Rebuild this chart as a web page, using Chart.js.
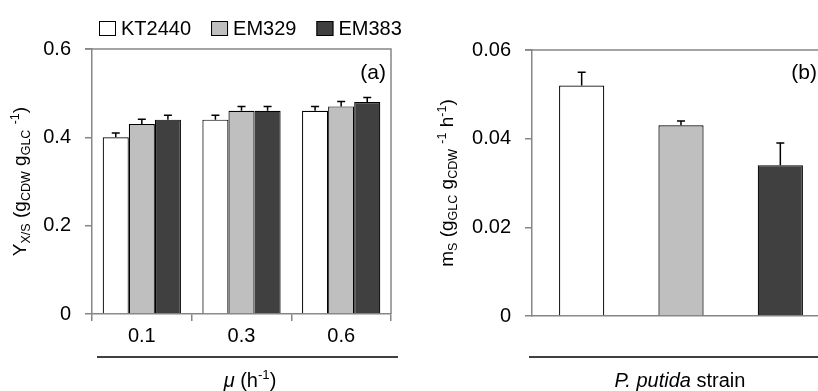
<!DOCTYPE html>
<html>
<head>
<meta charset="utf-8">
<script src="https://cdn.jsdelivr.net/npm/chart.js@4"></script>
<style>
  html, body { margin: 0; padding: 0; background: #fff; }
  body { width: 818px; height: 391px; overflow: hidden; position: relative; }
  #chartA { position: absolute; left: 0; top: 0; }
  #chartB { position: absolute; left: 410px; top: 0; }
</style>
</head>
<body>
<canvas id="chartA" width="410" height="391"></canvas>
<canvas id="chartB" width="440" height="391"></canvas>
<script>
const FONT = '"Liberation Sans", Arial, sans-serif';

// panel (a): yield at three growth rates
const growthRates = ['0.1', '0.3', '0.6'];
const strains = ['KT2440', 'EM329', 'EM383'];
const yieldKT2440 = [0.40, 0.44, 0.46];
const yieldEM329 = [0.43, 0.46, 0.47];
const yieldEM383 = [0.44, 0.46, 0.48];
const yieldErrKT2440 = [0.01, 0.01, 0.01];
const yieldErrEM329 = [0.011, 0.01, 0.011];
const yieldErrEM383 = [0.01, 0.01, 0.01];
const yieldTicks = [0, 0.2, 0.4, 0.6];

// panel (b): maintenance coefficient per strain
const maintenance = [0.052, 0.043, 0.034];
const maintenanceErr = [0.003, 0.001, 0.005];
const maintenanceTicks = [0, 0.02, 0.04, 0.06];

const strainColors = ['#ffffff', '#bfbfbf', '#404040'];
const axisGray = '#868686';

Chart.defaults.font.family = FONT;
Chart.defaults.font.size = 20;
Chart.defaults.color = '#000';

// draws a line of text with sub/superscript and italic runs
function drawRich(ctx, parts, x, y, size, rotate) {
    ctx.save();
    ctx.translate(x, y);
    if (rotate) ctx.rotate(-Math.PI / 2);
    ctx.textBaseline = 'alphabetic';
    ctx.fillStyle = '#000';
    const runs = parts.map(p => {
        const style = p[1] || '';
        const small = style === 'sub' || style === 'sup';
        const fs = small ? size * 0.66 : size;
        const font = (style === 'i' ? 'italic ' : '') + fs + 'px ' + FONT;
        ctx.font = font;
        const w = ctx.measureText(p[0]).width;
        const dy = style === 'sub' ? size * 0.22 : style === 'sup' ? -size * 0.38 : 0;
        return { text: p[0], font, w, dy };
    });
    const total = runs.reduce((s, r) => s + r.w, 0);
    let cx = -total / 2;
    runs.forEach(r => {
        ctx.font = r.font;
        ctx.fillText(r.text, cx, r.dy);
        cx += r.w;
    });
    ctx.restore();
}

const errorBars = {
    id: 'errorBars',
    afterDatasetsDraw(chart) {
        const ctx = chart.ctx;
        const yScale = chart.scales.y;
        ctx.save();
        ctx.strokeStyle = '#000';
        ctx.lineWidth = 1.5;
        chart.data.datasets.forEach((ds, i) => {
            const meta = chart.getDatasetMeta(i);
            meta.data.forEach((bar, j) => {
                const top = yScale.getPixelForValue(ds.data[j] + ds.errors[j]);
                ctx.beginPath();
                ctx.moveTo(bar.x, bar.y);
                ctx.lineTo(bar.x, top);
                ctx.moveTo(bar.x - 4, top);
                ctx.lineTo(bar.x + 4, top);
                ctx.stroke();
            });
        });
        ctx.restore();
    }
};

const decorations = {
    id: 'decorations',
    afterDraw(chart, args, opts) {
        const ctx = chart.ctx;
        const a = chart.chartArea;
        ctx.save();
        // plot frame (top and right)
        ctx.strokeStyle = axisGray;
        ctx.lineWidth = 1.5;
        ctx.beginPath();
        ctx.moveTo(a.left - 7, a.top);
        ctx.lineTo(a.right, a.top);
        ctx.lineTo(a.right, a.bottom);
        ctx.stroke();
        // underline above the x title
        ctx.strokeStyle = '#000';
        ctx.lineWidth = 1.5;
        ctx.beginPath();
        ctx.moveTo(opts.lineFrom, 357);
        ctx.lineTo(opts.lineTo, 357);
        ctx.stroke();
        // panel letter
        ctx.font = '21px ' + FONT;
        ctx.fillStyle = '#000';
        ctx.textAlign = 'right';
        ctx.textBaseline = 'middle';
        ctx.fillText(opts.letter, opts.letterX, 73);
        ctx.restore();
        drawRich(ctx, opts.yTitle, opts.yTitleX, (a.top + a.bottom) / 2, 19, true);
        drawRich(ctx, opts.xTitle, opts.xTitleX, 387, 20, false);
        if (opts.legend) {
            ctx.save();
            ctx.font = '20px ' + FONT;
            ctx.textBaseline = 'middle';
            ctx.textAlign = 'left';
            let x = opts.legendX;
            chart.data.datasets.forEach(ds => {
                ctx.fillStyle = ds.backgroundColor;
                ctx.strokeStyle = '#000';
                ctx.lineWidth = 1;
                ctx.fillRect(x, 21, 17, 15);
                ctx.strokeRect(x + 0.5, 21.5, 16, 14);
                ctx.fillStyle = '#000';
                ctx.fillText(ds.label, x + 22, 29);
                x += 22 + ctx.measureText(ds.label).width + 20;
            });
            ctx.restore();
        }
    }
};

function yAxis(max, step, ticks, width) {
    return {
        min: 0,
        max: max,
        afterFit: s => { s.width = width; },
        afterBuildTicks: s => { s.ticks = ticks.map(v => ({ value: v })); },
        ticks: { padding: 14, stepSize: step },
        grid: { drawOnChartArea: false, tickLength: 7, color: axisGray, lineWidth: 1.5 },
        border: { color: axisGray, width: 1.5 }
    };
}

new Chart(document.getElementById('chartA'), {
    type: 'bar',
    data: {
        labels: growthRates,
        datasets: [
            { label: strains[0], data: yieldKT2440, errors: yieldErrKT2440, backgroundColor: strainColors[0] },
            { label: strains[1], data: yieldEM329, errors: yieldErrEM329, backgroundColor: strainColors[1] },
            { label: strains[2], data: yieldEM383, errors: yieldErrEM383, backgroundColor: strainColors[2] }
        ].map(d => Object.assign(d, { borderColor: '#000', borderWidth: 1.2, barPercentage: 1, categoryPercentage: 0.785 }))
    },
    options: {
        responsive: false,
        animation: false,
        layout: { padding: { top: 49, right: 19, left: 0, bottom: 0 } },
        plugins: {
            legend: { display: false },
            tooltip: { enabled: false },
            decorations: {
                letter: '(a)', letterX: 386, legend: true, legendX: 99,
                lineFrom: 97, lineTo: 398, xTitleX: 250,
                yTitleX: 26,
                yTitle: [['Y'], ['X/S', 'sub'], [' (g'], ['CDW', 'sub'], [' g'], ['GLC', 'sub'], [' '], ['-1', 'sup'], [')']],
                xTitle: [['μ', 'i'], [' (h'], ['-1', 'sup'], [')']]
            }
        },
        scales: {
            x: {
                afterFit: s => { s.height = 77; },
                ticks: { padding: 3 },
                grid: { offset: true, drawOnChartArea: false, tickLength: 7, color: axisGray, lineWidth: 1.5 },
                border: { color: axisGray, width: 1.5 }
            },
            y: yAxis(0.6, 0.2, yieldTicks, 92)
        }
    },
    plugins: [errorBars, decorations]
});

new Chart(document.getElementById('chartB'), {
    type: 'bar',
    data: {
        labels: strains,
        datasets: [{
            label: 'ms',
            data: maintenance,
            errors: maintenanceErr,
            backgroundColor: strainColors,
            borderColor: '#000',
            borderWidth: 1.2,
            barPercentage: 0.455,
            categoryPercentage: 1
        }]
    },
    options: {
        responsive: false,
        animation: false,
        layout: { padding: { top: 50, right: 20, left: 0, bottom: 0 } },
        plugins: {
            legend: { display: false },
            tooltip: { enabled: false },
            decorations: {
                letter: '(b)', letterX: 407, legend: false,
                lineFrom: 119, lineTo: 420, xTitleX: 270,
                yTitleX: 43,
                yTitle: [['m'], ['S', 'sub'], [' (g'], ['GLC', 'sub'], [' g'], ['CDW', 'sub'], [' '], ['-1', 'sup'], [' h'], ['-1', 'sup'], [')']],
                xTitle: [['P. putida', 'i'], [' strain']]
            }
        },
        scales: {
            x: {
                afterFit: s => { s.height = 75; },
                ticks: { display: false },
                grid: { display: false },
                border: { color: axisGray, width: 1.5 }
            },
            y: yAxis(0.06, 0.02, maintenanceTicks, 122)
        }
    },
    plugins: [errorBars, decorations]
});
</script>
</body>
</html>
